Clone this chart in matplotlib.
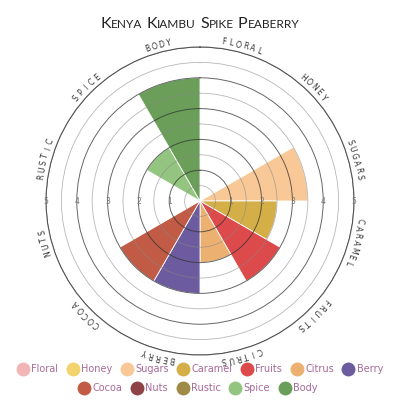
import numpy as np
import matplotlib

matplotlib.use("Agg")
import matplotlib.pyplot as plt
from matplotlib.lines import Line2D

# ── data ──────────────────────────────────────────────────────────────────────
TITLE = "Kenya Kiambu Spike Peaberry"
categories = ["Floral", "Honey", "Sugars", "Caramel", "Fruits", "Citrus",
              "Berry", "Cocoa", "Nuts", "Rustic", "Spice", "Body"]
scores = [0, 0, 3.5, 2.5, 3, 2, 3, 3, 0, 0, 2, 4]
colors = ["#f2b5b5", "#f3d36e", "#f8c996", "#d4ae47", "#dd4a4b", "#ecb070",
          "#6c5b9e", "#c25b45", "#8e4446", "#a08a47", "#94c580", "#6a9e59"]
rticks = [1, 2, 3, 4, 5]

INK = "#222222"
GREY = "#777777"
LEG = "#a86a98"

fig = plt.figure(figsize=(4, 4), dpi=100)
ax = fig.add_axes([0.115, 0.1125, 0.77, 0.77], projection="polar")
ax.set_theta_zero_location("N")
ax.set_theta_direction(-1)
ax.set_ylim(0, 5)

n = len(categories)
width = 2 * np.pi / n
theta = np.arange(n) * width + width / 2
ax.bar(theta, scores, width=width, bottom=0, color=colors,
       edgecolor="white", linewidth=0.6, zorder=1)

# rings every half unit, whole units darker
ax.set_yticks(np.arange(0.5, 5.01, 0.5))
ax.set_yticklabels([])
ax.set_xticks([])
ax.xaxis.grid(False)
ax.set_axisbelow(False)
for i, gl in enumerate(ax.yaxis.get_gridlines()):
    whole = (i % 2 == 1)
    gl.set_color("#333333" if whole else "#888888")
    gl.set_alpha(0.75 if whole else 0.6)
    gl.set_linewidth(0.7 if whole else 0.6)
    gl.set_linestyle("-")
ax.spines["polar"].set_color("#666666")
ax.spines["polar"].set_linewidth(0.8)

# radial scale on both sides
for r in rticks:
    for ang in (90, 270):
        ax.text(np.deg2rad(ang), r, str(r), ha="center", va="center",
                fontsize=5.5, color=GREY, zorder=5, family="DejaVu Sans")

# curved category labels
step = 2.6
for name, t in zip(categories, theta):
    word = name.upper()
    c = np.rad2deg(t)
    for j, ch in enumerate(word):
        a = c + (j - (len(word) - 1) / 2) * step
        ax.text(np.deg2rad(a), 5.22, ch, rotation=-a, rotation_mode="anchor",
                ha="center", va="center", fontsize=5.6, color="#333333",
                family="DejaVu Sans", clip_on=False)

# title in small caps
fig.canvas.draw()
rend = fig.canvas.get_renderer()
pieces = []
for w in TITLE.split():
    pieces.append((w[0].upper(), 11.5))
    pieces.append((w[1:].upper(), 8.6))
    pieces.append((" ", 0))
pieces = pieces[:-1]
gap = 4.0
widths = []
for txt, size in pieces:
    if size == 0:
        widths.append(gap)
        continue
    t = fig.text(0, 0, txt, fontsize=size, family="Lato")
    widths.append(t.get_window_extent(rend).width)
    t.remove()
x = 200 - sum(widths) / 2
for (txt, size), wd in zip(pieces, widths):
    if size:
        fig.text(x / 400, 1 - 27.5 / 400, txt, fontsize=size, family="Lato",
                 color=INK, ha="left", va="baseline")
    x += wd

# legend in two centred rows
handles = [Line2D([], [], marker="o", ls="", markersize=10, color=c,
                  markeredgewidth=0) for c in colors]
kw = dict(frameon=False, fontsize=7, labelcolor=LEG, handletextpad=0.25,
          columnspacing=0.9, handlelength=1.2, borderaxespad=0)
leg1 = fig.legend(handles[:7], categories[:7], ncol=7, loc="center",
                  bbox_to_anchor=(0.5, 1 - 369 / 400), **kw)
fig.legend(handles[7:], categories[7:], ncol=5, loc="center",
           bbox_to_anchor=(0.495, 1 - 388 / 400), **kw)

fig.savefig("out.png", dpi=100, facecolor="white")
